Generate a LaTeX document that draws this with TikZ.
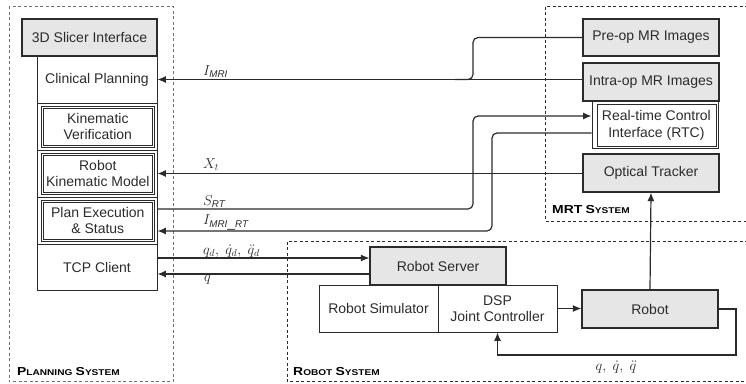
\documentclass[tikz,border=0pt]{standalone}
\usepackage{fontspec}
\setmainfont{Liberation Sans}
\newfontfamily\syslabelfont[FakeStretch=1.2]{Liberation Sans Bold}
\usetikzlibrary{arrows.meta}
\definecolor{ink}{HTML}{2B2B2B}
\definecolor{boxgray}{HTML}{E6E6E6}
\definecolor{dashgray}{HTML}{707070}
% large and small capitals for the subsystem captions
\newcommand\capL[1]{{\fontsize{11.6}{12}\selectfont #1}}
\newcommand\capS[1]{{\fontsize{8.4}{9}\selectfont #1}}
% inner rule of a double-framed box
\newcommand\innerframe[1]{\draw[innerline] ([shift={(2.4,2.4)}]#1.north west) rectangle ([shift={(-2.4,-2.4)}]#1.south east);}
\begin{document}
\begin{tikzpicture}[x=1pt,y=-1pt,
  every node/.style={text=ink, font=\fontsize{14}{16.5}\selectfont, inner sep=0pt, align=center},
  graybox/.style={draw=ink, fill=boxgray, line width=1.2pt},
  cell/.style={draw=ink, line width=0.9pt},
  framebox/.style={draw=ink, line width=0.7pt},
  innerline/.style={draw=ink, line width=0.7pt},
  wire/.style={draw=ink, line width=1.2pt},
  arr/.style={wire, -{Latex[length=8.5pt,width=7pt]}},
  varlabel/.style={font=\fontsize{14}{16}\selectfont, text=ink},
  sysbox/.style={draw=dashgray, line width=0.9pt, dash pattern=on 3pt off 2.5pt},
  syslabel/.style={font=\syslabelfont, anchor=base west, text=black}
]
\clip (0,0) rectangle (746,383);

% subsystem frames
\draw[sysbox] (9,6) rectangle (173,381.5);
\draw[sysbox, draw=ink] (545.7,6.7) rectangle (760,221);
\draw[sysbox, draw=ink] (287.3,241.7) rectangle (760,381.7);
\node[syslabel] (lblplan) at (17,375.6) {\capL{P}\capS{LANNING} \capL{S}\capS{YSTEM}};
\node[syslabel] (lblrobot) at (293,375.7) {\capL{R}\capS{OBOT} \capL{S}\capS{YSTEM}};
\node[syslabel] (lblmrt) at (552,213.3) {\capL{MRT} \capL{S}\capS{YSTEM}};

% planning system column
\node[graybox, minimum width=135, minimum height=37] (slicer) at (89.5,37.5) {3D Slicer Interface};
\node[cell, minimum width=120, minimum height=47] (clinical) at (97,79.5) {Clinical Planning};
\node[cell, minimum width=120, minimum height=47] (kvcell) at (97,126.5) {};
\node[framebox, minimum width=113.5, minimum height=41] (kv) at (97.8,126.6) {Kinematic\\Verification};
\innerframe{kv}
\node[cell, minimum width=120, minimum height=47] (rkmcell) at (97,173.5) {};
\node[framebox, minimum width=113.5, minimum height=41] (rkm) at (97.8,173.4) {Robot\\Kinematic Model};
\innerframe{rkm}
\node[cell, minimum width=120, minimum height=47] (pescell) at (97,220.5) {};
\node[framebox, minimum width=113.5, minimum height=41] (pes) at (97.8,220.5) {Plan Execution\\\& Status};
\innerframe{pes}
\node[cell, minimum width=120, minimum height=46] (tcp) at (97,267) {TCP Client};

% MRT system
\node[graybox, minimum width=136, minimum height=37] (preop) at (651,37.5) {Pre-op MR Images};
\node[graybox, minimum width=136, minimum height=38] (intraop) at (651,82) {Intra-op MR Images};
\node[cell, minimum width=126, minimum height=47] (rtccell) at (655,124.5) {};
\node[framebox, minimum width=119, minimum height=41.3] (rtc) at (656.4,125.4) {Real-time Control\\Interface (RTC)};
\node[graybox, minimum width=136, minimum height=38] (optical) at (651,173) {Optical Tracker};

% robot system
\node[graybox, minimum width=136, minimum height=38] (server) at (438,266) {Robot Server};
\node[cell, minimum width=119, minimum height=47] (sim) at (378.5,308.5) {Robot Simulator};
\node[cell, minimum width=119, minimum height=47] (dsp) at (497.5,308.5) {DSP\\Joint Controller};
\node[graybox, minimum width=136, minimum height=38] (robot) at (650,309) {Robot};

% signal heights
\coordinate (ysrt) at (0,209);
\coordinate (ysrtin) at (0,116);
\coordinate (yrtcout) at (0,133);
\coordinate (yimrt) at (0,231);
\coordinate (yqd) at (0,258);
\coordinate (yq) at (0,274);
\coordinate (mrijoin) at (455,79.5);

% image data to clinical planning
\draw[wire, rounded corners=5pt] (preop.west) -| (473,79.5) -- (mrijoin);
\draw[arr] (clinical.east -| intraop.west) -- (clinical.east);
\node[varlabel, anchor=south west] (limri) at (203,78) {$I_{\mathit{MRI}}$};

% tracker pose
\draw[arr] (rkmcell.east -| optical.west) -- (rkmcell.east);
\node[varlabel, anchor=south west] (lxt) at (203,171) {$X_t$};

% real-time control interface exchange
\draw[arr, rounded corners=5pt] (pescell.east |- ysrt) -| (473,116) -- (rtccell.west |- ysrtin);
\node[varlabel, anchor=south west] (lsrt) at (203,208) {$S_{\mathit{RT}}$};
\draw[arr, rounded corners=5pt] (rtccell.west |- yrtcout) -| (492,231) -- (pescell.east |- yimrt);
\node[varlabel, anchor=south west] (limrt) at (203,230) {$I_{\mathit{MRI\_RT}}$};

% TCP link to robot server
\draw[arr] (tcp.east |- yqd) -- (server.west |- yqd);
\node[varlabel, anchor=south west] (lqd) at (203,257) {$q_d,\;\dot{q}_d,\;\ddot{q}_d$};
\draw[arr] (server.west |- yq) -- (tcp.east |- yq);
\node[varlabel, anchor=north west] (lq) at (204,275) {$q$};

% robot loop
\draw[arr] (robot.east) -| (736,355) -| (dsp.south);
\draw[arr] (robot.north) -- (optical.south);
\draw[arr] (dsp.east) -- (dsp.east -| robot.west);
\node[varlabel] (lfb) at (616,367) {$q,\ \dot{q},\ \ddot{q}$};
\end{tikzpicture}
\end{document}
